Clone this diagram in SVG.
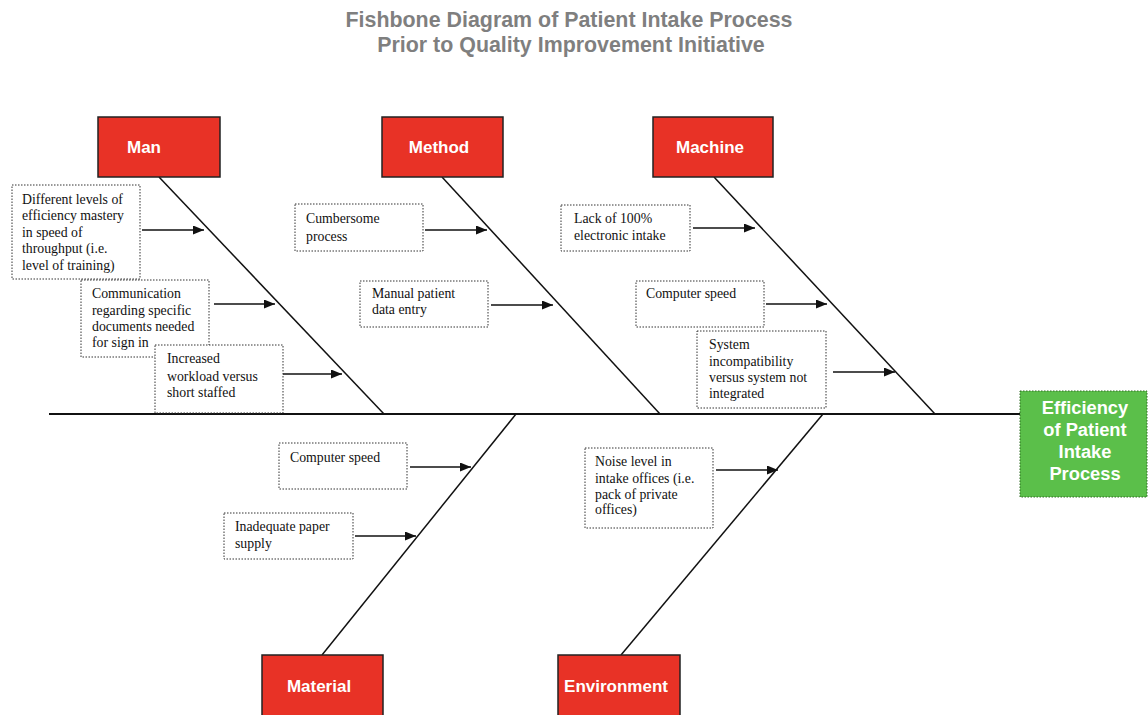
<svg xmlns="http://www.w3.org/2000/svg" width="1148" height="715" viewBox="0 0 1148 715">
<style>
.title{font-family:"Liberation Sans",Arial,sans-serif;font-weight:bold;font-size:21.4px;fill:#7f7f7f;text-anchor:middle}
.cat rect{fill:#e83226;stroke:#222;stroke-width:1.5}
.cat text{font-family:"Liberation Sans",Arial,sans-serif;font-weight:bold;font-size:17px;fill:#fff;text-anchor:middle}
.cause rect{fill:#fff;stroke:#333;stroke-width:1;stroke-dasharray:1.5 1.5}
.cause text{font-family:"Liberation Serif","Times New Roman",serif;font-size:13.8px;fill:#111}
.bone{stroke:#111;stroke-width:1.5;fill:none}
.arr{stroke:#111;stroke-width:1.5;fill:none;marker-end:url(#ah)}
.effect rect{fill:#5bbf4a;stroke:#2e6b22;stroke-width:1;stroke-dasharray:1.5 1.5}
.effect text{font-family:"Liberation Sans",Arial,sans-serif;font-weight:bold;font-size:18.3px;fill:#fff;text-anchor:middle}
</style>
<defs>
<marker id="ah" markerWidth="11" markerHeight="9" refX="11" refY="4.5" orient="auto" markerUnits="userSpaceOnUse">
<path d="M0,0 L11,4.5 L0,9 Z" fill="#111"/>
</marker>
</defs>
<rect width="1148" height="715" fill="#fff"/>
<g id="title">
<text class="title" x="569" y="27">Fishbone Diagram of Patient Intake Process</text>
<text class="title" x="571" y="52">Prior to Quality Improvement Initiative</text>
</g>
<g id="connectors">
<line class="bone" x1="49" y1="414" x2="1020" y2="414" style="stroke-width:2"/>
<line class="bone" x1="159" y1="177" x2="384" y2="414"/>
<line class="bone" x1="442" y1="177" x2="660" y2="414"/>
<line class="bone" x1="714" y1="177" x2="935" y2="414"/>
<line class="bone" x1="516" y1="414" x2="322" y2="655"/>
<line class="bone" x1="823" y1="414" x2="621" y2="655"/>
<line class="arr" x1="142" y1="230" x2="204" y2="230"/>
<line class="arr" x1="214" y1="304" x2="275" y2="304"/>
<line class="arr" x1="281" y1="374" x2="342" y2="374"/>
<line class="arr" x1="425" y1="230" x2="487" y2="230"/>
<line class="arr" x1="491" y1="305" x2="553" y2="305"/>
<line class="arr" x1="693" y1="228" x2="755" y2="228"/>
<line class="arr" x1="766" y1="304" x2="827" y2="304"/>
<line class="arr" x1="833" y1="372" x2="895" y2="372"/>
<line class="arr" x1="410" y1="467" x2="471" y2="467"/>
<line class="arr" x1="355" y1="536" x2="416" y2="536"/>
<line class="arr" x1="716" y1="470" x2="778" y2="470"/>
</g>
<g id="man" class="cat"><rect x="98" y="117" width="122" height="60"/><text x="144" y="153">Man</text></g>
<g id="method" class="cat"><rect x="382" y="117" width="121" height="60"/><text x="439" y="153">Method</text></g>
<g id="machine" class="cat"><rect x="653" y="117" width="120" height="60"/><text x="710" y="153">Machine</text></g>
<g id="material" class="cat"><rect x="262" y="655" width="121" height="70"/><text x="319" y="692">Material</text></g>
<g id="environment" class="cat"><rect x="558" y="655" width="122" height="70"/><text x="616" y="692">Environment</text></g>
<g id="effect" class="effect"><rect x="1020" y="391" width="127" height="106"/>
<text x="1085" y="414">Efficiency</text><text x="1085" y="436">of Patient</text><text x="1085" y="458">Intake</text><text x="1085" y="480">Process</text></g>
<g id="man-c1" class="cause"><rect x="12" y="185" width="128" height="94"/>
<text x="22" y="204">Different levels of</text><text x="22" y="220">efficiency mastery</text><text x="22" y="237">in speed of</text><text x="22" y="253">throughput (i.e.</text><text x="22" y="270">level of training)</text></g>
<g id="man-c2" class="cause"><rect x="81" y="280" width="128" height="77"/>
<text x="92" y="298">Communication</text><text x="92" y="315">regarding specific</text><text x="92" y="331">documents needed</text><text x="92" y="347">for sign in</text></g>
<g id="man-c3" class="cause"><rect x="155" y="345" width="128" height="68"/>
<text x="167" y="363">Increased</text><text x="167" y="381">workload versus</text><text x="167" y="397">short staffed</text></g>
<g id="method-c1" class="cause"><rect x="295" y="204" width="128" height="47"/>
<text x="306" y="223">Cumbersome</text><text x="306" y="241">process</text></g>
<g id="method-c2" class="cause"><rect x="360" y="281" width="128" height="46"/>
<text x="372" y="298">Manual patient</text><text x="372" y="314">data entry</text></g>
<g id="machine-c1" class="cause"><rect x="561" y="205" width="129" height="46"/>
<text x="574" y="223">Lack of 100%</text><text x="574" y="240">electronic intake</text></g>
<g id="machine-c2" class="cause"><rect x="636" y="281" width="128" height="46"/>
<text x="646" y="298">Computer speed</text></g>
<g id="machine-c3" class="cause"><rect x="697" y="331" width="129" height="77"/>
<text x="709" y="349">System</text><text x="709" y="366">incompatibility</text><text x="709" y="382">versus system not</text><text x="709" y="398">integrated</text></g>
<g id="material-c1" class="cause"><rect x="279" y="443" width="128" height="46"/>
<text x="290" y="462">Computer speed</text></g>
<g id="material-c2" class="cause"><rect x="224" y="513" width="129" height="46"/>
<text x="235" y="531">Inadequate paper</text><text x="235" y="548">supply</text></g>
<g id="environment-c1" class="cause"><rect x="585" y="448" width="128" height="80"/>
<text x="595" y="466">Noise level in</text><text x="595" y="483">intake offices (i.e.</text><text x="595" y="499">pack of private</text><text x="595" y="514">offices)</text></g>
</svg>
